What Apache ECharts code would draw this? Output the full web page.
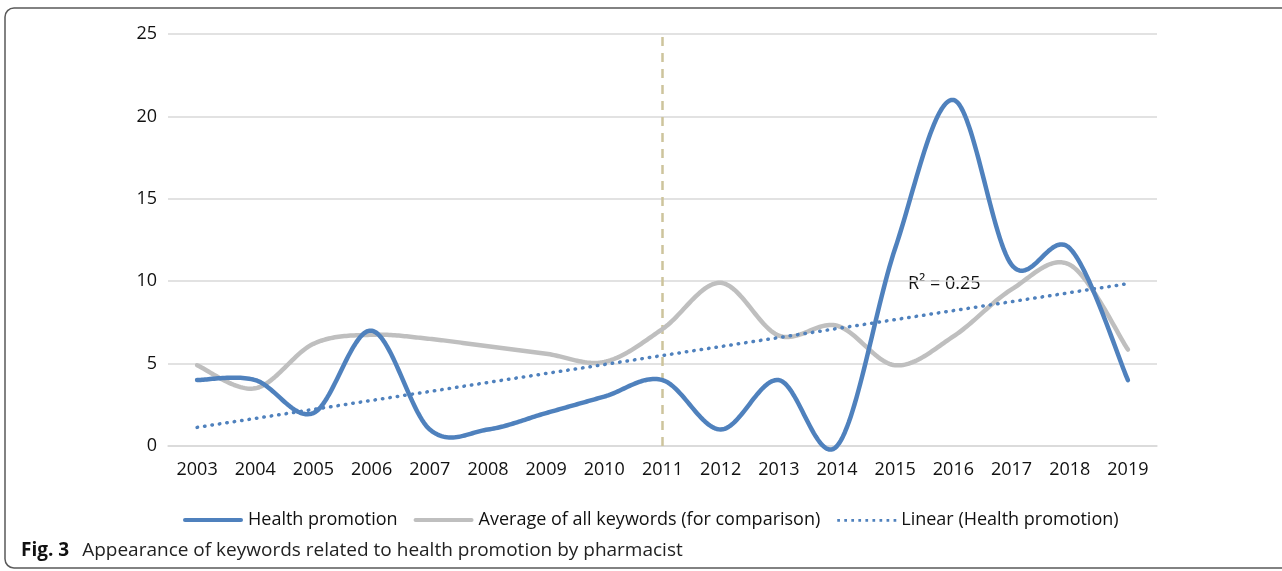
<!DOCTYPE html>
<html>
<head>
<meta charset="utf-8">
<script src="https://cdn.jsdelivr.net/npm/echarts@6/dist/echarts.min.js"></script>
<style>
html,body{margin:0;padding:0;background:#fff;}
#c{width:1282px;height:571px;}
</style>
</head>
<body>
<div id="c"></div>
<script>
const years = ['2003','2004','2005','2006','2007','2008','2009','2010','2011','2012','2013','2014','2015','2016','2017','2018','2019'];
const healthPromotion = [4, 4, 2, 7, 1, 1, 2, 3, 4, 1, 4, 0, 12, 21, 11, 12, 4];
const averageAll = [4.9, 3.5, 6.2, 6.75, 6.5, 6.05, 5.6, 5.1, 7.1, 9.9, 6.7, 7.3, 4.9, 6.65, 9.5, 11.0, 5.85];
const trendEnds = [['2003', 1.13], ['2019', 9.85]];
const yTicks = {min: 0, max: 25, interval: 5};
const markerYear = '2011';
const r2Label = 'R² = 0.25';
const seriesNames = ['Health promotion', 'Average of all keywords (for comparison)', 'Linear (Health promotion)'];
const captionBold = 'Fig. 3';
const captionText = 'Appearance of keywords related to health promotion by pharmacist';

const FONT = 'Open Sans';
const BLUE = '#4f81bd';
const GREY = '#bfbfbf';

// Excel-style smoothed line: Catmull-Rom bezier through the library's own pixel coordinates
function smoothRenderer(vals, color, width) {
  return function (params, api) {
    if (params.dataIndex !== 0) return null;
    const pts = vals.map((v, i) => api.coord([i, v]));
    const out = [];
    const n = pts.length;
    for (let i = 0; i < n - 1; i++) {
      const p0 = pts[i - 1] || pts[i], p1 = pts[i], p2 = pts[i + 1], p3 = pts[i + 2] || pts[i + 1];
      const c1 = [p1[0] + (p2[0] - p0[0]) / 6, p1[1] + (p2[1] - p0[1]) / 6];
      const c2 = [p2[0] - (p3[0] - p1[0]) / 6, p2[1] - (p3[1] - p1[1]) / 6];
      const steps = 30;
      for (let s = (i === 0 ? 0 : 1); s <= steps; s++) {
        const t = s / steps, u = 1 - t;
        const a = u * u * u, b = 3 * u * u * t, c = 3 * u * t * t, d = t * t * t;
        out.push([a * p1[0] + b * c1[0] + c * c2[0] + d * p2[0],
                  a * p1[1] + b * c1[1] + c * c2[1] + d * p2[1]]);
      }
    }
    return {type: 'polyline', shape: {points: out},
      style: {stroke: color, lineWidth: width, fill: null, lineCap: 'round', lineJoin: 'round'}};
  };
}

// legend icons
const solidIcon = 'path://M2,0 L58,0 A2,2 0 0 1 58,4 L2,4 A2,2 0 0 1 2,0 Z';
let dotPath = 'path://M0,0 L60,0 L60,0.01 L0,0.01 Z ';
for (let k = 0; k < 9; k++) {
  const x = 1 + k * 7.3;
  dotPath += 'M' + x + ',0.6 L' + (x + 2.8) + ',0.6 L' + (x + 2.8) + ',3.4 L' + x + ',3.4 Z ';
}

const chart = echarts.init(document.getElementById('c'), null, {renderer: 'canvas'});
chart.setOption({
  animation: false,
  backgroundColor: '#fff',
  textStyle: {fontFamily: FONT},
  grid: {left: 168, right: 125, top: 34, bottom: 125, containLabel: false},
  xAxis: {
    type: 'category',
    data: years,
    boundaryGap: true,
    axisLine: {show: true, lineStyle: {color: '#d9d9d9', width: 1.5}},
    axisTick: {show: false},
    axisLabel: {color: '#111', fontSize: 18, fontFamily: FONT, margin: 15}
  },
  yAxis: {
    type: 'value',
    min: yTicks.min, max: yTicks.max, interval: yTicks.interval,
    axisLine: {show: false},
    axisTick: {show: false},
    axisLabel: {color: '#111', fontSize: 18, fontFamily: FONT, margin: 11},
    splitLine: {lineStyle: {color: '#d9d9d9', width: 1.5}}
  },
  legend: {
    left: 178, top: 506,
    itemWidth: 60, itemHeight: 4.5, itemGap: 16,
    textStyle: {fontSize: 18, color: '#111', fontFamily: FONT},
    data: [
      {name: seriesNames[0], icon: solidIcon, itemStyle: {color: BLUE}},
      {name: seriesNames[1], icon: solidIcon, itemStyle: {color: GREY}},
      {name: seriesNames[2], icon: dotPath, itemStyle: {color: BLUE}}
    ]
  },
  series: [
    {
      name: seriesNames[1], type: 'custom', clip: false, z: 2,
      data: averageAll.map((v, i) => [i, v]),
      encode: {x: 0, y: 1},
      itemStyle: {color: GREY},
      renderItem: smoothRenderer(averageAll, GREY, 4.5)
    },
    {
      name: seriesNames[0], type: 'custom', clip: false, z: 3,
      data: healthPromotion.map((v, i) => [i, v]),
      encode: {x: 0, y: 1},
      itemStyle: {color: BLUE},
      renderItem: smoothRenderer(healthPromotion, BLUE, 4.5)
    },
    {
      name: seriesNames[2], type: 'line', data: trendEnds,
      symbol: 'none', z: 4,
      lineStyle: {color: BLUE, width: 3.5, type: [0.5, 7], cap: 'round'},
      itemStyle: {color: BLUE},
      markLine: {
        silent: true, symbol: 'none', z: 1,
        label: {show: false},
        lineStyle: {color: '#cdc49c', width: 2.5, type: [9, 7], cap: 'butt'},
        data: [{xAxis: markerYear}]
      }
    }
  ],
  graphic: [
    {type: 'rect', shape: {x: 5, y: 8, width: 1300, height: 560, r: 9},
     style: {fill: 'none', stroke: '#5a5a5a', lineWidth: 1.5}, silent: true, z: -1},
    {type: 'text', left: 908, top: 275,
     style: {text: r2Label, fontSize: 18, fontFamily: FONT, fill: '#111'}},
    {type: 'text', left: 21, top: 541,
     style: {
       text: '{b|' + captionBold + '}{n|' + captionText + '}',
       rich: {
         b: {fontSize: 19, fontWeight: 'bold', fontFamily: FONT, fill: '#111', padding: [0, 13, 0, 0]},
         n: {fontSize: 19, fontFamily: FONT, fill: '#222'}
       }
     }}
  ]
});
</script>
</body>
</html>
